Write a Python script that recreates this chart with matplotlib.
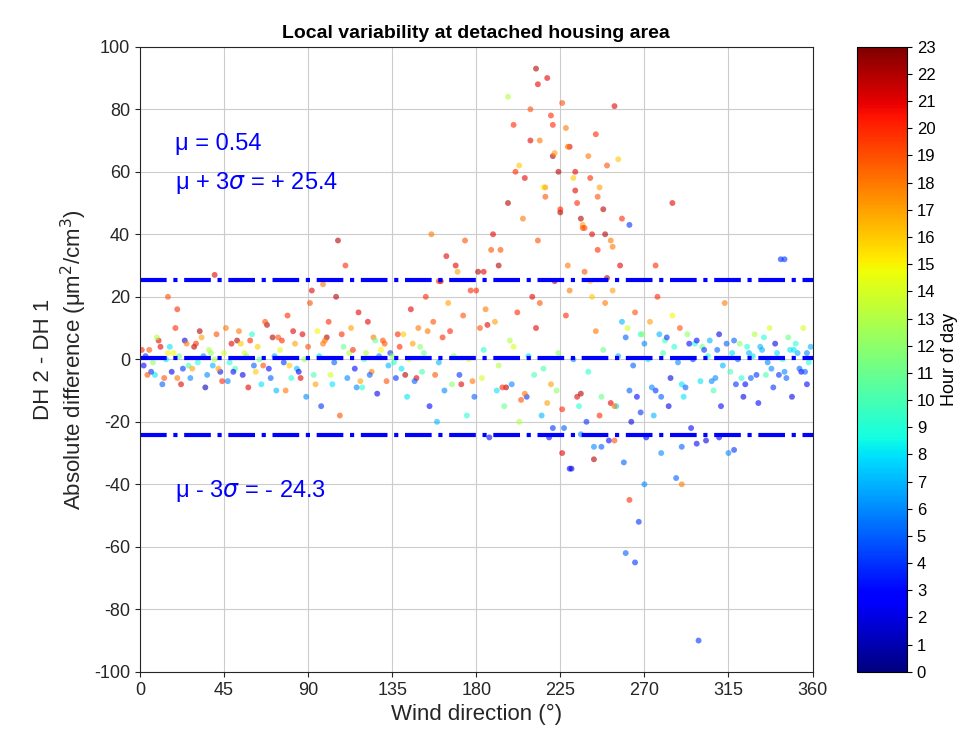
import numpy as np
import matplotlib.pyplot as plt

plt.rcParams['font.family'] = ['Liberation Sans', 'DejaVu Sans']
plt.rcParams['axes.unicode_minus'] = False

# wind direction (deg), DH2 - DH1 difference, hour of day
wind_dir = [
    2, 5, 8, 10, 12, 15, 17, 19, 21, 23, 25, 27, 29, 31, 33, 35, 37, 39, 41, 43,
    45, 47, 49, 51, 53, 55, 57, 59, 61, 63, 65, 67, 69, 71, 73, 75, 77, 79, 81, 83,
    85, 87, 89, 91, 93, 95, 97, 99, 101, 103, 105, 107, 109, 111, 113, 115, 117, 119, 121, 123,
    125, 127, 129, 131, 133, 135, 137, 139, 141, 143, 145, 147, 149, 151, 153, 155, 157, 159, 161, 163,
    165, 167, 169, 171, 173, 175, 177, 179, 181, 183, 185, 187, 189, 191, 193, 195, 197, 199, 201, 203,
    205, 207, 209, 211, 213, 215, 217, 219, 221, 223, 225, 227, 229, 231, 233, 235, 237, 239, 241, 243,
    245, 247, 249, 251, 253, 255, 257, 259, 261, 263, 265, 267, 269, 271, 273, 275, 277, 279, 281, 283,
    285, 287, 289, 291, 293, 295, 297, 299, 301, 303, 305, 307, 309, 311, 313, 315, 317, 319, 321, 323,
    325, 327, 329, 331, 333, 335, 337, 339, 341, 343, 345, 347, 349, 351, 353, 355, 357, 359,
    3, 7, 14, 18, 26, 34, 40, 48, 56, 64, 72, 80, 88, 96, 104, 112, 120, 128, 136, 144,
    152, 160, 168, 176, 184, 192, 200, 208, 216, 224, 232, 240, 248, 256, 264, 272, 280, 288, 296, 304,
    312, 320, 328, 336, 344, 352, 358,
    4, 11, 20, 30, 42, 52, 62, 74, 86, 98, 108, 118, 130, 142, 154, 162, 172, 182, 190, 196,
    202, 206, 210, 214, 218, 222, 226, 230, 234, 238, 242, 246, 250, 254, 258, 262, 268, 274, 282, 290,
    298, 306, 314, 322, 332, 342, 350, 356,
    197, 200, 203, 206, 209, 212, 214, 216, 218, 220, 222, 224, 226, 228, 230, 232, 234, 236, 238, 240,
    242, 244, 246, 248, 250, 252, 254, 256, 258, 213, 217, 221, 225, 229, 233, 237, 241, 245, 249, 253,
    180, 184, 188, 192, 156, 160, 164, 170, 174, 106, 110, 98, 92, 15, 20, 40, 260, 265, 270, 285,
    298, 345, 230, 247, 221, 236, 262, 276, 290, 310, 318, 290, 262, 226, 243, 254,
    1, 6, 9, 13, 16, 22, 24, 28, 32, 36, 38, 44, 46, 50, 54, 58, 60, 66, 68, 70,
    76, 78, 82, 84, 90, 94, 100, 102, 114, 116, 122, 124, 126, 132, 134, 138, 140, 146, 148, 150,
    158, 166, 178, 186, 194, 198, 204, 212, 220, 228, 236, 244, 252, 260, 266, 270, 276, 278, 284, 286,
    292, 294, 300, 302, 308, 310, 316, 318, 324, 326, 330, 334, 338, 340, 346, 348, 354, 357, 268, 279,
]
diff = [
    -2, 3, -5, 6, -8, 2, -4, 10, 1, -3, 5, -6, 4, -1, 7, -9, 3, -2, 8, -4,
    2, -7, 5, -3, 9, -5, 1, 6, -2, 4, -8, 12, -3, 7, -10, 3, -1, 14, -6, 5,
    -4, 8, -12, 18, -5, 9, -15, 6, 12, -8, 20, -18, 4, -6, 10, -3, 15, -9, 2, -5,
    7, -11, 3, 5, -2, 1, -6, 4, 8, -12, 16, -7, 10, -4, 20, -15, 12, -20, 25, -10,
    18, -8, 30, -5, 14, -18, 22, -12, 28, -6, 16, -25, 40, -10, 35, -15, 50, -8, 60, -20,
    45, -12, 70, -5, 38, -18, 55, -25, 65, -10, 48, -22, 30, -35, 60, -15, 42, -20, 25, -28,
    35, -12, 18, -26, 22, -15, 30, -33, 10, -20, 15, -52, 8, -25, 12, -18, 20, -30, 6, -15,
    14, -38, 10, -12, 8, -22, 5, -90, 4, -26, 6, -10, 3, -15, 18, -30, 2, -8, 5, -12,
    4, -6, 8, -14, 3, -5, 10, -9, 2, 32, -4, 7, -12, 5, -3, 10, -8, 4,
    1, -1, 0, 2, -2, 1, 0, -1, 2, 0, 1, -2, 0, 1, -1, 2, 0, 1, -1, 0,
    2, -1, 1, 0, 3, -2, 4, 1, -3, 2, 0, -4, 3, 1, -2, 0, 2, -1, 0, 1,
    -2, 0, 1, -1, 0, 2, -1,
    -5, 4, -6, 5, -3, 6, -4, 7, -6, 5, 8, -7, 6, -5, 9, 7, -8, 10, 12, -9,
    15, -11, 20, 18, -14, 25, -16, 22, -12, 28, 20, -18, 26, -15, 12, -10, 8, -9, 7, -8,
    6, -7, 5, -6, 4, -5, 3, -4,
    84, 75, 62, 58, 80, 93, 70, 55, 90, 78, 66, 60, 82, 74, 68, 58, 50, 45, 42, 65,
    40, 72, 55, 48, 62, 38, 81, 64, 45, 88, 52, 75, 47, 68, 54, 43, 58, 52, 40, 36,
    22, 28, 35, 30, 40, 25, 33, 28, 38, 38, 30, 24, 22, 20, 16, 27, -62, -65, -40, 50,
    -27, 32, -35, -28, -22, -24, 43, 30, -28, -25, -29, -40, -45, -30, -32, -26,
    3, -4, 7, -6, 4, -8, 6, -3, 9, -5, 2, -7, 10, -4, 5, -9, 8, -2, 11, -6,
    6, -10, 9, -3, 4, -8, 7, -5, 3, -9, 12, -4, 6, -7, 2, 8, -3, 5, -6, 4,
    -5, 9, -7, 11, -9, 6, -13, 10, -8, 14, -11, 9, -14, 7, -12, 5, -10, 8, -6, 4,
    -9, 5, -7, 3, -6, 8, -4, 6, -8, 2, -5, 7, -3, 5, -6, 3, -4, 2, -17, -12,
]
hour = [
    3, 19, 8, 21, 5, 15, 2, 20, 11, 4, 18, 6, 22, 9, 17, 1, 13, 7, 19, 3,
    14, 6, 21, 10, 18, 2, 12, 20, 5, 16, 8, 19, 3, 22, 7, 14, 4, 20, 9, 17,
    2, 21, 6, 19, 10, 15, 4, 18, 20, 8, 22, 19, 11, 6, 17, 3, 21, 9, 13, 5,
    18, 2, 15, 19, 7, 12, 4, 20, 16, 8, 21, 5, 18, 10, 20, 3, 19, 7, 22, 6,
    17, 12, 21, 4, 19, 9, 20, 5, 22, 14, 18, 3, 21, 8, 19, 11, 22, 6, 20, 13,
    18, 4, 21, 10, 19, 7, 17, 3, 22, 12, 20, 5, 18, 2, 21, 9, 19, 4, 16, 6,
    20, 11, 18, 3, 17, 8, 21, 5, 14, 2, 19, 4, 12, 3, 17, 7, 20, 6, 10, 2,
    15, 5, 19, 8, 12, 3, 9, 4, 11, 2, 7, 10, 5, 3, 18, 6, 8, 4, 12, 2,
    9, 5, 13, 3, 7, 10, 14, 4, 8, 4, 6, 11, 2, 9, 5, 14, 3, 7,
    4, 12, 8, 15, 10, 6, 13, 9, 14, 11, 7, 16, 12, 8, 5, 13, 10, 6, 9, 14,
    11, 7, 12, 15, 9, 13, 14, 8, 10, 12, 6, 9, 11, 7, 5, 8, 10, 6, 4, 9,
    7, 5, 8, 6, 10, 7, 9,
    19, 21, 18, 20, 17, 22, 16, 19, 21, 18, 20, 17, 19, 22, 18, 20, 21, 19, 17, 22,
    20, 18, 21, 19, 17, 22, 20, 18, 21, 19, 16, 20, 22, 18, 7, 5, 9, 6, 4, 8,
    3, 6, 5, 9, 7, 4, 8, 5,
    13, 20, 16, 21, 19, 22, 18, 15, 21, 20, 17, 22, 19, 18, 21, 16, 20, 22, 19, 18,
    21, 20, 17, 22, 19, 18, 21, 16, 20, 21, 19, 20, 22, 18, 21, 17, 20, 19, 22, 18,
    20, 21, 19, 22, 18, 20, 21, 17, 19, 22, 20, 18, 21, 19, 20, 21, 5, 4, 6, 21,
    3, 4, 3, 5, 4, 6, 4, 20, 5, 3, 4, 18, 20, 21, 22, 19,
    20, 4, 13, 19, 8, 21, 2, 17, 22, 6, 12, 20, 18, 3, 16, 21, 9, 19, 22, 5,
    20, 18, 21, 7, 19, 17, 22, 14, 20, 6, 21, 18, 11, 19, 4, 20, 8, 17, 21, 12,
    19, 20, 18, 21, 20, 13, 19, 21, 17, 20, 22, 18, 21, 5, 3, 6, 4, 7, 2, 9,
    5, 3, 8, 4, 6, 2, 10, 5, 3, 7, 4, 9, 6, 2, 5, 8, 3, 6, 4, 5,
]

mu, upper, lower = 0.54, 25.4, -24.3

fig = plt.figure(figsize=(9.65, 7.54), dpi=100)
ax = fig.add_axes([0.145, 0.109, 0.697, 0.829])
cax = fig.add_axes([0.888, 0.109, 0.052, 0.829])

order = np.argsort(np.array(hour) % 7)
sc = ax.scatter(np.array(wind_dir)[order], np.array(diff)[order], c=np.array(hour)[order],
                cmap="jet", vmin=0, vmax=23, s=18, alpha=0.6, edgecolors="none")

for yv in (mu, upper, lower):
    ax.axhline(yv, color="blue", ls="-.", lw=3)

ax.set_xlim(0, 360)
ax.set_ylim(-100, 100)
ax.set_xticks(np.arange(0, 361, 45))
ax.set_yticks(np.arange(-100, 101, 20))
ax.grid(True, color="#cccccc", lw=0.8)
ax.set_axisbelow(True)
ax.tick_params(labelsize=13, colors="#262626")
for s in ax.spines.values():
    s.set_color("#262626")

ax.text(19, 69, "μ = 0.54", color="blue", fontsize=17, va="center")
ax.text(19, 56.5, "μ + 3$\\sigma$ = + 25.4", color="blue", fontsize=17, va="center")
ax.text(19, -42, "μ - 3$\\sigma$ = - 24.3", color="blue", fontsize=17, va="center")

ax.set_title("Local variability at detached housing area", fontsize=14, fontweight="bold")
ax.set_xlabel("Wind direction (°)", fontsize=16, color="#262626")
ax.set_ylabel("DH 2 - DH 1\nAbsolute difference (μm$^2$/cm$^3$)", fontsize=16, color="#262626")

cb = fig.colorbar(sc, cax=cax, ticks=range(0, 24))
cb.solids.set_alpha(1)
cb.ax.tick_params(labelsize=12)
cb.set_label("Hour of day", fontsize=13)

fig.savefig("out.png", dpi=100)
